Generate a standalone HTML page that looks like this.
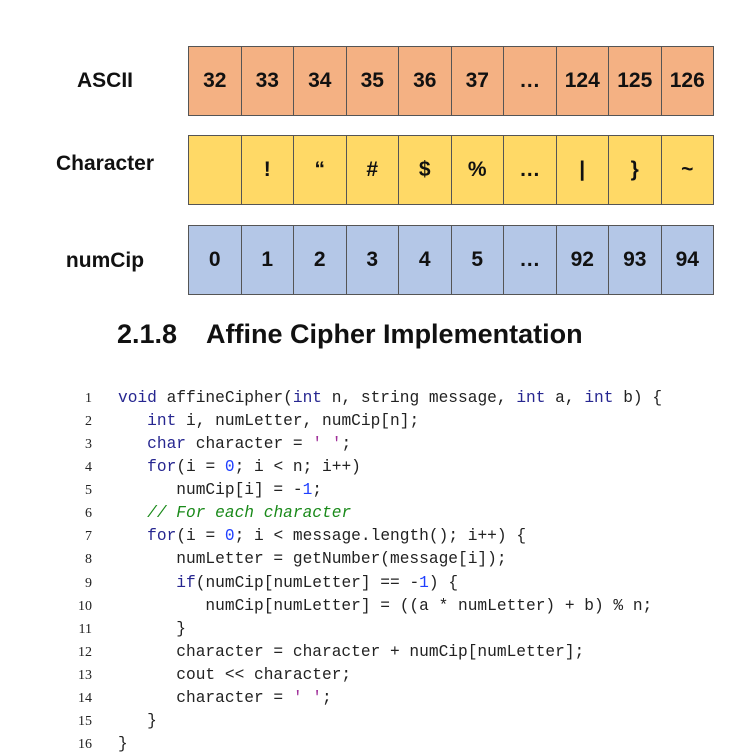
<!DOCTYPE html>
<html><head><meta charset="utf-8"><style>
body{margin:0;width:756px;height:756px;background:#fff;position:relative;overflow:hidden}
.row{position:absolute;left:188px;display:flex;height:70px;border:1px solid #555;box-sizing:border-box;width:526px}
.row div{flex:1;border-right:1px solid #555;display:flex;align-items:center;justify-content:center;font:bold 21px "Liberation Sans",sans-serif;color:#111}
.row div:last-child{border-right:none}
.lab{position:absolute;width:210px;left:0;text-align:center;font:bold 21px "Liberation Sans",sans-serif;color:#111}
.title{position:absolute;left:117px;top:319px;font:bold 27px "Liberation Sans",sans-serif;color:#111;white-space:pre}
.code{position:absolute;left:118px;top:387px;font:16.2px/23.07px "Liberation Mono",monospace;color:#222;white-space:pre;margin:0}
.ln{position:absolute;left:60px;width:32px;top:387px;font:14px/23.07px "Liberation Serif",serif;text-align:right;color:#222;white-space:pre;margin:0}
.k{color:#262690}.n{color:#1f3fff}.s{color:#a0309a}.c{color:#1a8a1a;font-style:italic}
</style></head><body>
<div class="lab" style="top:69px">ASCII</div>
<div class="lab" style="top:152px">Character</div>
<div class="lab" style="top:249px">numCip</div>
<div class="row" style="top:46px;background:#f4b183"><div>32</div><div>33</div><div>34</div><div>35</div><div>36</div><div>37</div><div>…</div><div>124</div><div>125</div><div>126</div></div>
<div class="row" style="top:135px;background:#ffd966"><div></div><div>!</div><div>“</div><div>#</div><div>$</div><div>%</div><div>…</div><div>|</div><div>}</div><div>~</div></div>
<div class="row" style="top:225px;background:#b4c7e7"><div>0</div><div>1</div><div>2</div><div>3</div><div>4</div><div>5</div><div>…</div><div>92</div><div>93</div><div>94</div></div>
<div class="title">2.1.8    Affine Cipher Implementation</div>
<pre class="ln">1
2
3
4
5
6
7
8
9
10
11
12
13
14
15
16</pre>
<pre class="code"><span class="k">void</span> affineCipher(<span class="k">int</span> n, string message, <span class="k">int</span> a, <span class="k">int</span> b) {
   <span class="k">int</span> i, numLetter, numCip[n];
   <span class="k">char</span> character = <span class="s">' '</span>;
   <span class="k">for</span>(i = <span class="n">0</span>; i &lt; n; i++)
      numCip[i] = -<span class="n">1</span>;
   <span class="c">// For each character</span>
   <span class="k">for</span>(i = <span class="n">0</span>; i &lt; message.length(); i++) {
      numLetter = getNumber(message[i]);
      <span class="k">if</span>(numCip[numLetter] == -<span class="n">1</span>) {
         numCip[numLetter] = ((a * numLetter) + b) % n;
      }
      character = character + numCip[numLetter];
      cout &lt;&lt; character;
      character = <span class="s">' '</span>;
   }
}</pre>
</body></html>
